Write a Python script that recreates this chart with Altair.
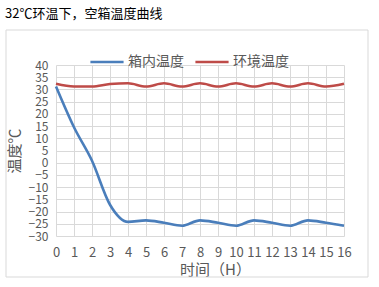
import altair as alt
import pandas as pd

hours = list(range(17))
inner = [31.2, 14.5, 0.8, -17.2, -24.2, -23.6, -24.6, -25.8, -23.6, -24.6, -25.8, -23.6, -24.6, -25.8, -23.6, -24.6, -25.8]
outer = [32.3, 31.2, 31.2, 32.2, 32.5, 31.2, 32.5, 31.2, 32.5, 31.2, 32.5, 31.2, 32.5, 31.2, 32.5, 31.2, 32.3]
series_names = ["箱内温度", "环境温度"]
colors = ["#4A7EBB", "#BE4B48"]
y_ticks = list(range(-30, 45, 5))
title_text = "32℃环温下，空箱温度曲线"

df = pd.DataFrame({
    "时间": hours * 2,
    "温度": inner + outer,
    "系列": [series_names[0]] * len(hours) + [series_names[1]] * len(hours),
})

FONT = "Noto Sans CJK SC"

box = alt.Chart(alt.Data(values=[{}])).mark_rect(
    filled=False, stroke="#D9D9D9", strokeWidth=1
).encode(
    x=alt.value(-50), x2=alt.value(312), y=alt.value(-35), y2=alt.value(212)
)

title = alt.Chart(alt.Data(values=[{}])).mark_text(
    text=title_text, align="left", baseline="middle", font=FONT, fontSize=13, color="#000000"
).encode(x=alt.value(-51), y=alt.value(-51))

lines = alt.Chart(df).mark_line(
    interpolate="monotone", strokeWidth=2.6
).encode(
    x=alt.X("时间:Q", scale=alt.Scale(domain=[0, 16], nice=False),
            axis=alt.Axis(values=hours, title="时间（H）", grid=True, gridColor="#D9D9D9",
                          domain=False, ticks=False, labelPadding=10, labelFontSize=13,
                          labelColor="#595959", labelFont=FONT, titleFont=FONT,
                          titleFontSize=15, titleFontWeight="normal", titleColor="#595959",
                          titlePadding=3, titleX=159, labelFlush=False, labelOverlap=False)),
    y=alt.Y("温度:Q", scale=alt.Scale(domain=[-30, 40], nice=False),
            axis=alt.Axis(values=y_ticks, title="温度℃", grid=True, gridColor="#D9D9D9",
                          domain=False, ticks=False, labelPadding=8, labelFontSize=12,
                          labelColor="#595959", labelFont=FONT, titleFont=FONT,
                          titleFontSize=15, titleFontWeight="normal", titleColor="#595959",
                          titlePadding=6, labelFlush=False, labelOverlap=False)),
    color=alt.Color("系列:N", scale=alt.Scale(domain=series_names, range=colors),
                    legend=alt.Legend(title=None, orient="none", legendX=33, legendY=-21,
                                      direction="horizontal", symbolType="stroke",
                                      symbolSize=1100, symbolStrokeWidth=2.6,
                                      labelFont=FONT, labelFontSize=14, labelColor="#595959",
                                      columnPadding=6, labelOffset=3)),
)

chart = alt.layer(box, title, lines).properties(
    width=288, height=171,
    autosize=alt.AutoSizeParams(type="none"),
    padding={"left": 56, "top": 65, "right": 35, "bottom": 51},
    background="white",
).configure_view(stroke=None)

chart.save("out.html", embed_options={"renderer": "svg", "actions": False})
